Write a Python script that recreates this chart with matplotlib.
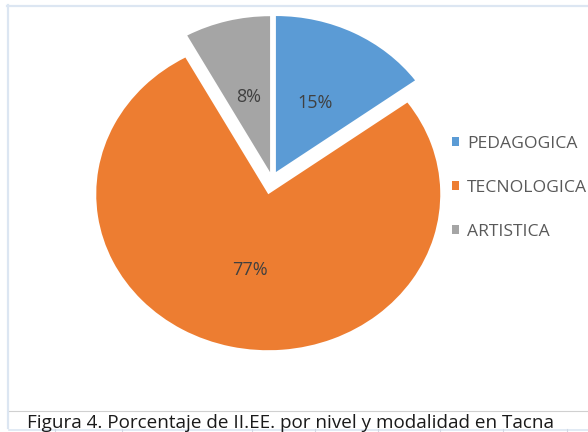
import matplotlib
matplotlib.use("Agg")
import matplotlib.pyplot as plt
from matplotlib.lines import Line2D

categories = ["PEDAGOGICA", "TECNOLOGICA", "ARTISTICA"]
values = [15, 77, 8]
colors = ["#5B9BD5", "#ED7D31", "#A5A5A5"]
explode = [0.05, 0.1, 0.045]
caption = "Figura 4. Porcentaje de II.EE. por nivel y modalidad en Tacna"

W, H = 588, 432
fig = plt.figure(figsize=(W / 100, H / 100), dpi=100)
fig.patch.set_facecolor("white")

def px(x, y):
    return x / W, 1 - y / H

# pie axes (stretched horizontally like the reference)
cx, cy = 272, 179
rx, ry = 172, 156
lim = 1.2
left = (cx - lim * rx) / W
bottom = (H - cy - lim * ry) / H
ax = fig.add_axes([left, bottom, 2 * lim * rx / W, 2 * lim * ry / H])
wedges, texts, autotexts = ax.pie(
    values, colors=colors, explode=explode, startangle=90, counterclock=False,
    autopct="%1.0f%%", pctdistance=0.5,
    wedgeprops=dict(linewidth=0),
    textprops=dict(color="#404040", fontsize=13, family="Open Sans"),
)
ax.set_aspect("auto")
ax.set_xlim(-lim, lim)
ax.set_ylim(-lim, lim)
ax.axis("off")

leg = fig.legend(
    wedges, categories, loc="center left", bbox_to_anchor=px(452, 187.5),
    frameon=False, borderpad=0, borderaxespad=0,
    handlelength=0.42, handleheight=0.42, handletextpad=0.45,
    labelspacing=1.6,
    prop=dict(family="Open Sans", size=12.6),
)
for t in leg.get_texts():
    t.set_color("#595959")

# sheet borders
def hline(y, x0, x1, color, lw):
    fig.add_artist(Line2D([x0 / W, x1 / W], [1 - y / H, 1 - y / H],
                          color=color, lw=lw, transform=fig.transFigure))

def vline(x, y0, y1, color, lw):
    fig.add_artist(Line2D([x / W, x / W], [1 - y0 / H, 1 - y1 / H],
                          color=color, lw=lw, transform=fig.transFigure))

hline(6, 7, W, "#DCE6F2", 1.6)
vline(8, 5, 428, "#DCE6F2", 1.6)
hline(410.5, 9, W, "#D0D0D0", 0.8)

fig.text(27 / W, 1 - 428 / H, caption, family="Open Sans", fontsize=13.6,
         color="#1a1a1a", va="baseline", ha="left")

hline(429.5, 9, W, "#DCE6F2", 1.2)
for tx in [55, 122, 188, 252, 315, 378, 440, 503, 567]:
    vline(tx, 429, 432, "#D0D8E4", 0.8)

fig.savefig("out.png", dpi=100, facecolor="white")
